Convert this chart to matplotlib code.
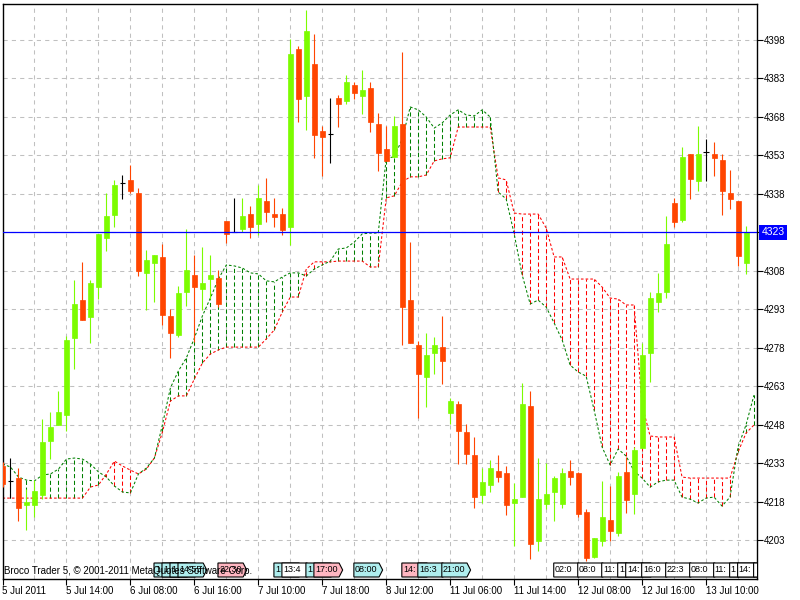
import matplotlib.pyplot as plt
import numpy as np
from matplotlib.patches import Polygon

plt.rcParams['font.family'] = ['Liberation Sans', 'DejaVu Sans']

# OHLC candles (one per bar)
opens = [4232.0, 4226.2, 4227.3, 4216.8, 4216.8, 4220.7, 4241.7, 4248.0, 4251.9, 4281.8,
         4296.6, 4290.0, 4301.7, 4320.8, 4329.8, 4342.2, 4343.4, 4338.3, 4307.2, 4311.1,
         4313.4, 4290.4, 4283.0, 4299.8, 4306.4, 4300.9, 4304.8, 4305.2, 4327.4, 4323.1,
         4324.3, 4330.1, 4326.3, 4335.2, 4330.1, 4330.1, 4325.1, 4394.4, 4376.1, 4388.6,
         4362.5, 4361.3, 4375.3, 4374.2, 4380.4, 4376.1, 4379.2, 4365.2, 4355.5, 4352.3,
         4365.2, 4296.6, 4279.1, 4266.7, 4276.0, 4278.3, 4252.6, 4256.1, 4245.2, 4236.3,
         4220.7, 4224.6, 4230.0, 4229.3, 4217.6, 4219.9, 4255.4, 4202.8, 4217.2, 4221.9,
         4217.2, 4230.0, 4229.3, 4214.1, 4196.5, 4202.8, 4211.0, 4205.9, 4229.7, 4221.1,
         4239.0, 4276.0, 4295.9, 4299.8, 4334.4, 4327.8, 4353.5, 4343.0, 4354.3, 4353.5,
         4351.2, 4338.3, 4335.2, 4311.1]
highs = [4233.6, 4235.1, 4231.2, 4223.0, 4226.5, 4250.3, 4253.0, 4261.2, 4282.6, 4304.4,
         4311.5, 4304.4, 4322.4, 4338.3, 4343.4, 4345.3, 4349.2, 4340.3, 4316.1, 4314.2,
         4318.5, 4293.1, 4302.1, 4324.3, 4314.2, 4317.3, 4314.2, 4308.3, 4327.4, 4336.4,
         4336.4, 4333.3, 4341.4, 4344.2, 4336.4, 4332.5, 4398.3, 4395.6, 4409.6, 4400.3,
         4364.4, 4375.3, 4376.5, 4384.3, 4381.6, 4386.2, 4381.6, 4369.5, 4364.4, 4368.3,
         4393.2, 4319.2, 4280.7, 4283.8, 4282.2, 4290.4, 4258.5, 4257.3, 4248.4, 4243.3,
         4231.2, 4234.3, 4236.3, 4232.0, 4225.4, 4264.3, 4261.2, 4235.1, 4233.2, 4228.1,
         4231.2, 4234.3, 4229.7, 4215.2, 4203.9, 4226.2, 4224.2, 4229.7, 4235.5, 4239.4,
         4279.9, 4299.8, 4307.2, 4329.4, 4336.4, 4356.2, 4353.5, 4364.4, 4359.4, 4358.2,
         4353.5, 4347.3, 4335.2, 4325.5]
lows = [4223.8, 4219.5, 4210.6, 4207.1, 4212.1, 4219.1, 4234.7, 4248.0, 4245.6, 4269.8,
        4288.9, 4279.9, 4297.0, 4315.7, 4325.1, 4336.0, 4338.3, 4306.0, 4292.8, 4295.9,
        4286.9, 4274.1, 4282.2, 4294.3, 4280.3, 4292.8, 4297.0, 4293.9, 4318.9, 4323.1,
        4323.1, 4320.8, 4322.0, 4327.0, 4325.1, 4322.0, 4318.1, 4366.0, 4362.9, 4352.0,
        4344.9, 4350.0, 4364.0, 4373.0, 4374.9, 4369.1, 4362.1, 4346.9, 4350.8, 4352.3,
        4279.1, 4279.9, 4250.7, 4255.0, 4267.8, 4263.9, 4248.4, 4232.8, 4232.8, 4215.6,
        4217.6, 4221.9, 4225.8, 4212.9, 4200.8, 4219.9, 4195.8, 4198.9, 4215.2, 4210.6,
        4215.6, 4224.6, 4212.1, 4195.0, 4196.2, 4200.8, 4202.8, 4204.7, 4213.7, 4213.3,
        4239.0, 4264.7, 4292.0, 4297.4, 4325.1, 4327.0, 4336.0, 4339.1, 4343.0, 4344.9,
        4329.8, 4332.1, 4309.9, 4306.8]
closes = [4225.0, 4226.2, 4215.6, 4218.0, 4222.3, 4241.3, 4247.2, 4253.0, 4281.1, 4295.1,
          4288.9, 4303.3, 4322.4, 4329.4, 4341.4, 4342.2, 4339.1, 4307.9, 4312.2, 4314.2,
          4290.8, 4283.8, 4299.4, 4308.3, 4301.7, 4303.3, 4306.4, 4295.1, 4322.4, 4323.1,
          4329.4, 4325.1, 4336.4, 4330.9, 4329.0, 4323.9, 4392.5, 4374.9, 4401.4, 4360.9,
          4360.1, 4361.3, 4373.0, 4381.6, 4377.3, 4378.4, 4366.0, 4353.9, 4350.8, 4364.4,
          4293.9, 4279.9, 4267.8, 4275.2, 4279.1, 4272.9, 4257.3, 4245.6, 4236.7, 4219.9,
          4225.8, 4231.2, 4227.7, 4216.8, 4219.1, 4256.1, 4201.6, 4219.1, 4221.1, 4227.3,
          4229.3, 4227.7, 4213.3, 4196.2, 4203.9, 4212.1, 4206.7, 4228.1, 4218.8, 4238.2,
          4275.2, 4297.4, 4299.4, 4318.5, 4327.0, 4352.3, 4343.8, 4353.5, 4354.3, 4352.0,
          4339.1, 4336.0, 4313.8, 4323.0]

# Ichimoku cloud: Senkou Span A (green) and Span B (red)
span_a = [4232.8, 4231.6, 4227.7, 4226.5, 4226.2, 4228.5, 4228.9, 4230.8, 4234.7, 4235.1,
          4234.7, 4232.8, 4229.7, 4227.7, 4224.2, 4221.9, 4221.5, 4228.9, 4231.2, 4235.1,
          4248.0, 4262.4, 4269.0, 4274.1, 4281.8, 4290.4, 4297.4, 4304.8, 4310.3, 4309.9,
          4309.1, 4307.2, 4306.8, 4304.1, 4303.7, 4305.6, 4307.2, 4307.2, 4306.0, 4308.7,
          4310.3, 4311.8, 4316.5, 4316.9, 4319.2, 4322.4, 4322.7, 4322.7, 4352.0, 4352.3,
          4359.4, 4371.8, 4370.7, 4367.9, 4363.6, 4365.6, 4368.7, 4370.7, 4368.7, 4368.3,
          4370.7, 4367.9, 4338.7, 4336.0, 4322.4, 4306.4, 4295.1, 4296.6, 4293.9, 4287.7,
          4281.1, 4271.3, 4268.6, 4267.0, 4253.8, 4239.4, 4232.4, 4238.6, 4235.9, 4230.0,
          4227.3, 4223.8, 4225.8, 4226.5, 4226.5, 4219.9, 4219.1, 4217.6, 4219.5, 4219.9,
          4216.4, 4219.9, 4239.4, 4248.0, 4259.6]
span_b = [4219.5, 4219.5, 4219.5, 4219.5, 4219.5, 4219.5, 4219.5, 4219.5, 4219.5, 4219.5,
          4219.5, 4223.8, 4224.6, 4228.9, 4233.9, 4232.0, 4230.4, 4228.9, 4230.8, 4235.1,
          4245.2, 4257.3, 4259.3, 4259.3, 4265.9, 4272.1, 4275.6, 4277.2, 4278.3, 4278.3,
          4278.3, 4278.3, 4278.3, 4281.5, 4285.0, 4292.0, 4297.8, 4297.8, 4308.7, 4311.5,
          4311.5, 4311.5, 4311.8, 4311.8, 4311.8, 4311.8, 4309.5, 4309.5, 4336.4, 4337.2,
          4342.6, 4344.6, 4344.6, 4345.3, 4350.8, 4351.6, 4352.0, 4364.0, 4364.0, 4364.0,
          4364.0, 4364.0, 4344.2, 4343.4, 4330.5, 4330.1, 4330.1, 4330.1, 4324.7, 4313.4,
          4313.4, 4304.8, 4304.8, 4304.8, 4304.8, 4301.7, 4297.4, 4297.0, 4294.7, 4294.7,
          4255.8, 4243.7, 4243.3, 4243.3, 4243.3, 4227.7, 4227.3, 4227.3, 4227.3, 4227.3,
          4227.3, 4227.3, 4237.4, 4244.8, 4248.0]

x_labels = ['5 Jul 2011', '5 Jul 14:00', '6 Jul 08:00', '6 Jul 16:00', '7 Jul 10:00',
            '7 Jul 18:00', '8 Jul 12:00', '11 Jul 06:00', '11 Jul 14:00', '12 Jul 08:00',
            '12 Jul 16:00', '13 Jul 10:00']
y_ticks = [4203, 4218, 4233, 4248, 4263, 4278, 4293, 4308, 4323, 4338, 4353, 4368, 4383, 4398]
last_price = 4323

# calendar events along the bottom
ev_bars = [19, 20, 21, 22, 27, 34, 35, 38, 39, 44, 50, 52, 55,
           69, 72, 75, 77, 78, 80, 83, 86, 89, 91, 92, 94]
ev_texts = ['1', '1', '1', '14:55', '22:30', '1', '13:4', '1', '17:00', '08:00', '14:', '16:3', '21:00',
            '02:0', '08:0', '11:', '1', '14:', '16:0', '22:3', '08:0', '11:', '1', '14:', '']
ev_kinds = ['c', 'c', 'c', 'c', 'p', 'c', 'w', 'c', 'p', 'c', 'p', 'c', 'c',
            'w', 'w', 'w', 'w', 'w', 'w', 'w', 'w', 'w', 'w', 'w', 'w']

BULL = '#7CFC00'
BEAR = '#FF4500'
GRID = '#C0C0C0'
ev_fill = {'c': '#AFEEEE', 'p': '#FFB6C1', 'w': '#FFFFFF'}

fig = plt.figure(figsize=(8, 6), dpi=100)
ax = fig.add_axes([2.5 / 800, 21 / 600, 754.5 / 800, 575 / 600])
ax.set_xlim(0.06, 94.375)
ax.set_ylim(4188.0, 4411.9)

# grid
for gx in range(4, 95, 4):
    ax.axvline(gx, color=GRID, lw=0.75, ls=(0, (4, 4)), zorder=0)
for gy in y_ticks:
    ax.axhline(gy, color=GRID, lw=0.75, ls=(0, (4, 4)), zorder=0)

# cloud
cx = np.arange(len(span_a))
sa = np.array(span_a)
sb = np.array(span_b)
for i in cx:
    col = '#008000' if sa[i] >= sb[i] else '#FF0000'
    ax.vlines(i, min(sa[i], sb[i]), max(sa[i], sb[i]), color=col, lw=0.75,
              linestyles=[(0, (4, 2.5))], zorder=1)
ax.plot(cx, sb, color='#FF0000', lw=0.75, ls=(0, (2.5, 2)), zorder=2)
ax.plot(cx, sa, color='#008000', lw=0.75, ls=(0, (2.5, 2)), zorder=2)

# candles
for i in range(len(opens)):
    o, h, l, c = opens[i], highs[i], lows[i], closes[i]
    if abs(c - o) < 0.3:
        ax.vlines(i, l, h, color='black', lw=0.8, zorder=3)
        ax.hlines(o, i - 0.32, i + 0.32, color='black', lw=0.8, zorder=3)
        continue
    col = BULL if c > o else BEAR
    ax.vlines(i, l, h, color=col, lw=0.8, zorder=3)
    ax.bar(i, abs(c - o), bottom=min(o, c), width=0.625, color=col,
           edgecolor=col, lw=0.5, zorder=3)

# last price line + label
ax.axhline(last_price, color='#0000FF', lw=0.9, zorder=4)
ax.text(1.006, last_price, str(last_price), transform=ax.get_yaxis_transform(),
        ha='left', va='center', fontsize=7.5, color='white', clip_on=False,
        bbox=dict(boxstyle='square,pad=0.25', facecolor='#0000FF', edgecolor='none'))

# event markers
trans = ax.get_xaxis_transform()
y0 = (579 - 577) / 575
y1 = (579 - 563) / 575
ym = (y0 + y1) / 2
for k, (b, t, kind) in enumerate(zip(ev_bars, ev_texts, ev_kinds)):
    x0 = b - 0.05
    x1 = x0 + 3.6
    poly = Polygon([(x0, y0), (x1 - 0.45, y0), (x1, ym), (x1 - 0.45, y1), (x0, y1)],
                   closed=True, transform=trans, facecolor=ev_fill[kind],
                   edgecolor='black', lw=0.8, zorder=5 + k * 0.01)
    ax.add_patch(poly)
    ax.text(x0 + 0.15, ym, t, transform=trans, fontsize=6.5, ha='left', va='center',
            zorder=5 + k * 0.01 + 0.005)

ax.text(0.002, (579 - 571.5) / 575, 'Broco Trader 5, \u00a9 2001-2011 MetaQuotes Software Corp.',
        transform=ax.transAxes, fontsize=7, ha='left', va='center', zorder=6)

# axes styling
for s in ax.spines.values():
    s.set_color('black')
    s.set_linewidth(1.0)
ax.yaxis.tick_right()
ax.set_yticks(y_ticks)
ax.set_yticklabels([str(v) for v in y_ticks])
ax.tick_params(axis='y', direction='out', length=4, width=0.8, pad=1, labelsize=7)
ax.set_xticks(range(0, 8 * len(x_labels), 8))
ax.set_xticklabels(x_labels, ha='left')
ax.tick_params(axis='x', direction='out', length=4, width=0.8, pad=1, labelsize=7)

fig.savefig('out.png', dpi=100, facecolor='white')
